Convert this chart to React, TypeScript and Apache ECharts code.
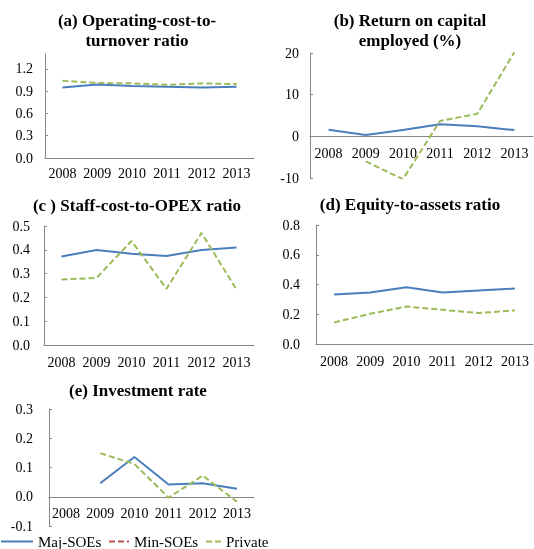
import React, { useEffect, useRef } from "react";
import * as echarts from "echarts";

const years = ["2008", "2009", "2010", "2011", "2012", "2013"];
const seriesNames = ["Maj-SOEs", "Min-SOEs", "Private"];

// (a) Operating-cost-to-turnover ratio
const aMaj = [0.95, 0.99, 0.97, 0.96, 0.95, 0.96];
const aMin = [null, null, null, null, null, null];
const aPriv = [1.04, 1.01, 1.005, 0.985, 1.005, 0.995];
// (b) Return on capital employed (%)
const bMaj = [1.6, 0.3, 1.5, 2.9, 2.4, 1.5];
const bMin = [null, null, null, null, null, null];
const bPriv = [null, -6.0, -10.3, 3.7, 5.4, 20.2];
// (c) Staff-cost-to-OPEX ratio
const cMaj = [0.372, 0.399, 0.383, 0.374, 0.399, 0.41];
const cMin = [null, null, null, null, null, null];
const cPriv = [0.275, 0.282, 0.437, 0.236, 0.471, 0.233];
// (d) Equity-to-assets ratio
const dMaj = [0.333, 0.346, 0.382, 0.346, 0.36, 0.373];
const dMin = [null, null, null, null, null, null];
const dPriv = [0.145, 0.203, 0.252, 0.23, 0.208, 0.226];
// (e) Investment rate
const eMaj = [null, 0.046, 0.136, 0.042, 0.046, 0.027];
const eMin = [null, null, null, null, null, null];
const ePriv = [null, 0.149, 0.112, -0.003, 0.072, -0.017];

const titles = [
  ["(a) Operating-cost-to-", "turnover ratio"],
  ["(b) Return on capital", "employed (%)"],
  ["(c ) Staff-cost-to-OPEX ratio"],
  ["(d) Equity-to-assets ratio"],
  ["(e) Investment rate"],
];

const yMin = [0, -10, 0, 0, -0.1];
const yMax = [1.4, 20, 0.5, 0.8, 0.3];
const yInterval = [0.3, 10, 0.1, 0.2, 0.1];
const yDecimals = [1, 0, 1, 1, 1];

const panelData = [
  [aMaj, aMin, aPriv],
  [bMaj, bMin, bPriv],
  [cMaj, cMin, cPriv],
  [dMaj, dMin, dPriv],
  [eMaj, eMin, ePriv],
];

const SERIF = "Times New Roman";
const AXIS_COLOR = "#868686";
const COLORS = ["#4A7EBB", "#C0504D", "#9BBB59"];

const grids = [
  { left: 45, top: 54, width: 209, height: 104 },
  { left: 310, top: 53, width: 223, height: 125 },
  { left: 44, top: 226, width: 210, height: 119 },
  { left: 316, top: 225, width: 217, height: 119 },
  { left: 49, top: 409, width: 205, height: 117 },
];
const titlePos = [
  { x: 137, y: 21 },
  { x: 410, y: 21 },
  { x: 137, y: 206 },
  { x: 410, y: 205 },
  { x: 138, y: 391 },
];
const xLabelMargin = [8, 10, 10, 10, 10];
const yLabelMargin = [12, 11, 14, 16, 16];

export default function App() {
  const ref = useRef<HTMLDivElement>(null);
  useEffect(() => {
    if (!ref.current) return;
    const chart = echarts.init(ref.current, null, { renderer: "svg" });
    const series: any[] = [];
    panelData.forEach((arrs, i) => {
      arrs.forEach((d, k) => {
        series.push({
          type: "line",
          name: seriesNames[k],
          xAxisIndex: i,
          yAxisIndex: i,
          data: d,
          symbol: "none",
          connectNulls: false,
          color: COLORS[k],
          z: k === 2 ? 3 : 2,
          lineStyle: {
            color: COLORS[k],
            width: 2,
            type: k === 0 ? "solid" : [6, 3],
          },
        });
      });
    });
    const graphic: any[] = [];
    titles.forEach((lines, i) => {
      lines.forEach((t, j) => {
        graphic.push({
          type: "text",
          x: titlePos[i].x,
          y: titlePos[i].y + j * 20 - 9,
          style: {
            text: t,
            textAlign: "center",
            fontFamily: SERIF,
            fontSize: 17,
            fontWeight: "bold",
            fill: "#000",
          },
        });
      });
    });
    const legendItems = [
      { left: 0, w: 32 },
      { left: 108, w: 20 },
      { left: 205, w: 15 },
    ];
    // shift each x axis up so its line sits on value 0
    const xOffset = grids.map((g, i) =>
      yMin[i] < 0 ? -(g.height * (0 - yMin[i])) / (yMax[i] - yMin[i]) : 0
    );
    const option: any = {
      animation: false,
      grid: grids.map((g) => ({ ...g, containLabel: false })),
      xAxis: grids.map((_, i) => ({
        type: "category",
        gridIndex: i,
        data: years,
        boundaryGap: true,
        position: "bottom",
        offset: xOffset[i],
        axisLine: { onZero: false, lineStyle: { color: AXIS_COLOR, width: 1 } },
        axisTick: { inside: true, length: 4, lineStyle: { color: AXIS_COLOR } },
        axisLabel: {
          color: "#000",
          fontSize: 14,
          fontFamily: SERIF,
          margin: xLabelMargin[i],
          interval: 0,
        },
        splitLine: { show: false },
      })),
      yAxis: grids.map((_, i) => ({
        type: "value",
        gridIndex: i,
        min: yMin[i],
        max: yMax[i],
        interval: yInterval[i],
        axisLine: { show: true, lineStyle: { color: AXIS_COLOR, width: 1 } },
        axisTick: { show: true, inside: true, length: 3, lineStyle: { color: AXIS_COLOR } },
        axisLabel: {
          color: "#000",
          fontSize: 14,
          fontFamily: SERIF,
          margin: yLabelMargin[i],
          showMaxLabel: i === 0 ? false : true,
          formatter: (v: number) => v.toFixed(yDecimals[i]),
        },
        splitLine: { show: false },
      })),
      legend: legendItems.map((l, k) => ({
        data: [seriesNames[k]],
        left: l.left,
        top: 534,
        padding: 0,
        itemWidth: l.w,
        itemHeight: 14,
        itemStyle: { opacity: 0 },
        textStyle: { fontSize: 15, fontFamily: SERIF, color: "#000" },
        selectedMode: false,
      })),
      series,
      graphic,
    };
    chart.setOption(option);
    return () => chart.dispose();
  }, []);
  return (
    <div
      ref={ref}
      style={{ position: "fixed", left: 0, top: 0, width: 534, height: 549 }}
    />
  );
}
